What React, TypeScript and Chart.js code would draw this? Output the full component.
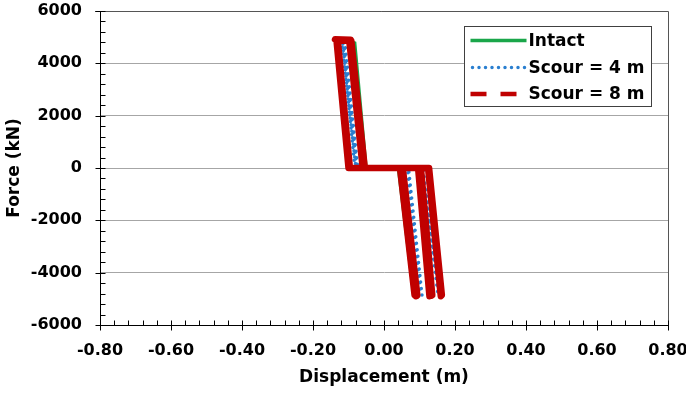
import React, { useEffect, useRef } from "react";
import { Chart, registerables } from "chart.js";

Chart.register(...registerables);

// ---- data (displacement in m, force in kN) ----
const intactX = [0, -0.052, -0.086, -0.082, -0.05, 0.04, 0.083, 0.086, 0.043, 0];
const intactY = [0, 0, 4800, 4780, 0, 0, -4800, -4780, 0, 0];

const scour4X = [0, -0.079, -0.119, -0.113, -0.076, 0.069, 0.107, 0.104, 0.066, -0.082, -0.116, -0.11, -0.074, 0.11, 0.156, 0.152, 0.107, 0];
const scour4Y = [0, 0, 4800, 4780, 0, 0, -4850, -4830, 0, 0, 4750, 4750, 0, 0, -4850, -4830, 0, 0];

const scour8X = [0, 0.049, 0.09, 0.094, 0.053, -0.1, -0.134, -0.138, -0.094, -0.056, 0.096, 0.128, 0.131, 0.099, -0.096, -0.13, -0.098, -0.06, 0.124, 0.16, 0.163, 0.127, 0.045, 0.086, 0.089, 0.048, -0.098, -0.131, -0.092, -0.054, 0.101, 0.134, 0.136, 0.104, -0.06];
const scour8Y = [0, 0, -4900, -4880, 0, 0, 4900, 4920, 4900, 0, 0, -4900, -4870, 0, 0, 4880, 4880, 0, 0, -4900, -4860, 0, 0, -4850, -4850, 0, 0, 4860, 4860, 0, 0, -4880, -4860, 0, 0];

const seriesNames = ["Intact", "Scour = 4 m", "Scour = 8 m"];

const xMin = -0.8, xMax = 0.8, xStep = 0.2, xMinorStep = 0.04;
const yMin = -6000, yMax = 6000, yStep = 2000, yMinorStep = 400;

const FONT = "'DejaVu Sans', sans-serif";
const GREEN = "#1aa64a";
const BLUE = "#2a7fd0";
const RED = "#c00000";

const pts = (xs: number[], ys: number[]) => xs.map((x, i) => ({ x, y: ys[i] }));

const framePlugin = {
  id: "frameTicks",
  afterDraw(chart: any) {
    const { ctx, chartArea: a, scales } = chart;
    const xs = scales.x, ys = scales.y;
    ctx.save();
    ctx.lineWidth = 1;
    ctx.strokeStyle = "#555";
    ctx.beginPath();
    ctx.moveTo(a.left - 5, Math.round(a.top) + 0.5);
    ctx.lineTo(Math.round(a.right) + 0.5, Math.round(a.top) + 0.5);
    ctx.lineTo(Math.round(a.right) + 0.5, a.bottom);
    ctx.stroke();
    ctx.strokeStyle = "#000";
    ctx.beginPath();
    const ax = Math.round(a.left) + 0.5;
    const n = Math.round((yMax - yMin) / yMinorStep);
    for (let i = 0; i <= n; i++) {
      const v = yMin + i * yMinorStep;
      const py = Math.round(ys.getPixelForValue(v)) + 0.5;
      const major = i % Math.round(yStep / yMinorStep) === 0;
      ctx.moveTo(major ? ax - 5 : ax, py);
      ctx.lineTo(ax + 5, py);
    }
    const by = Math.round(a.bottom) + 0.5;
    const m = Math.round((xMax - xMin) / xMinorStep);
    for (let i = 0; i <= m; i++) {
      const v = xMin + i * xMinorStep;
      const px = Math.round(xs.getPixelForValue(v)) + 0.5;
      const major = i % Math.round(xStep / xMinorStep) === 0;
      ctx.moveTo(px, major ? by + 5 : by);
      ctx.lineTo(px, by - 5);
    }
    ctx.stroke();

    // legend
    const bx = Math.round(a.right) - 204 + 0.5;
    const bt = Math.round(a.top) + 15 + 0.5;
    const bw = 187, bh = 80;
    ctx.fillStyle = "#fff";
    ctx.fillRect(bx, bt, bw, bh);
    ctx.strokeStyle = "#404040";
    ctx.lineWidth = 1;
    ctx.strokeRect(bx, bt, bw, bh);
    const rows = [bt + 14, bt + 41, bt + 67.5];
    const sx0 = bx + 6, sx1 = bx + 62;
    ctx.lineCap = "butt";
    ctx.strokeStyle = GREEN; ctx.lineWidth = 3.5; ctx.setLineDash([]);
    ctx.beginPath(); ctx.moveTo(sx0, rows[0]); ctx.lineTo(sx1, rows[0]); ctx.stroke();
    ctx.strokeStyle = BLUE; ctx.lineWidth = 3.5; ctx.lineCap = "round"; ctx.setLineDash([0, 6.5]);
    ctx.beginPath(); ctx.moveTo(sx0 + 2, rows[1]); ctx.lineTo(sx1, rows[1]); ctx.stroke();
    ctx.strokeStyle = RED; ctx.lineWidth = 4.5; ctx.lineCap = "butt"; ctx.setLineDash([16, 14]);
    ctx.beginPath(); ctx.moveTo(sx0, rows[2]); ctx.lineTo(sx1 - 8, rows[2]); ctx.stroke();
    ctx.setLineDash([]);
    ctx.fillStyle = "#000";
    ctx.font = `bold 17px ${FONT}`;
    ctx.textBaseline = "middle";
    ctx.textAlign = "left";
    seriesNames.forEach((s, i) => ctx.fillText(s, bx + 64, rows[i] + 1));
    ctx.restore();
  },
};

export default function App() {
  const ref = useRef<HTMLCanvasElement | null>(null);
  useEffect(() => {
    if (!ref.current) return;
    const chart = new Chart(ref.current, {
      type: "scatter",
      data: {
        datasets: [
          {
            label: seriesNames[0], data: pts(intactX, intactY), showLine: true,
            borderColor: GREEN, borderWidth: 3, pointRadius: 0, order: 2,
          },
          {
            label: seriesNames[1], data: pts(scour4X, scour4Y), showLine: true,
            borderColor: BLUE, borderWidth: 3.5, borderDash: [0, 6.5], borderCapStyle: "round",
            pointRadius: 0, order: 1,
          },
          {
            label: seriesNames[2], data: pts(scour8X, scour8Y), showLine: true,
            borderColor: RED, borderWidth: 6.5, borderCapStyle: "round", borderJoinStyle: "round",
            pointRadius: 0, order: 0,
          },
        ] as any,
      },
      options: {
        animation: false,
        responsive: false,
        layout: { padding: { top: 11, right: 18, left: 0, bottom: 0 } },
        plugins: { legend: { display: false }, tooltip: { enabled: false } },
        scales: {
          x: {
            type: "linear", min: xMin, max: xMax,
            ticks: {
              stepSize: xStep, padding: 16, color: "#000",
              font: { family: FONT, size: 16, weight: "bold" },
              callback: (v: any) => (Math.abs(v) < 1e-9 ? 0 : v).toFixed(2),
            },
            grid: { display: false, drawTicks: false },
            border: { display: true, color: "#000", width: 1 },
            title: {
              display: true, text: "Displacement (m)", color: "#000",
              font: { family: FONT, size: 17, weight: "bold" }, padding: { top: 0, bottom: 6 },
            },
            afterFit: (s: any) => { s.height = 69; s.paddingLeft = 0; s.paddingRight = 0; },
          },
          y: {
            type: "linear", min: yMin, max: yMax,
            ticks: {
              stepSize: yStep, padding: 18, color: "#000",
              font: { family: FONT, size: 16, weight: "bold" },
              callback: (v: any) => String(Math.round(v)),
            },
            grid: { color: "#a6a6a6", lineWidth: 1, drawTicks: false },
            border: { display: true, color: "#000", width: 1 },
            title: {
              display: true, text: "Force (kN)", color: "#000",
              font: { family: FONT, size: 17, weight: "bold" }, padding: { top: 4, bottom: 0 },
            },
            afterFit: (s: any) => { s.width = 100; s.paddingTop = 0; s.paddingBottom = 0; },
          },
        },
      } as any,
      plugins: [framePlugin],
    });
    return () => chart.destroy();
  }, []);
  return (
    <canvas
      ref={ref}
      width={686}
      height={394}
      style={{ position: "fixed", left: 0, top: 0, width: 686, height: 394 }}
    />
  );
}
